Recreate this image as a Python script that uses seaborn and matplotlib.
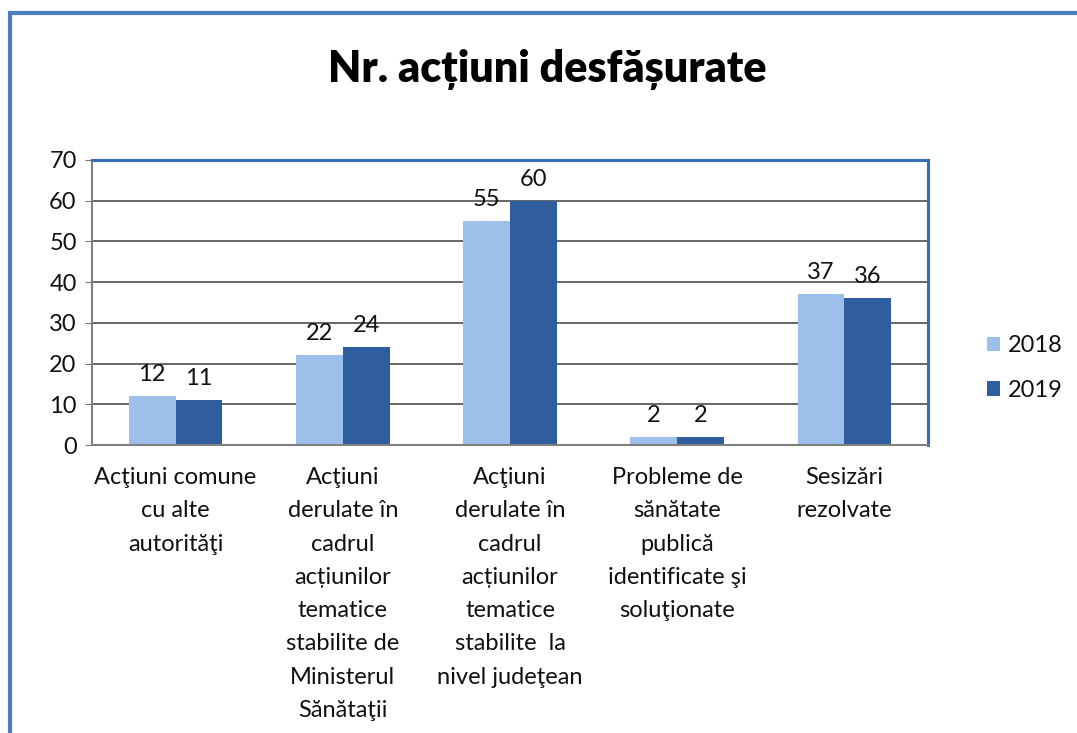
import numpy as np
import pandas as pd
import matplotlib.pyplot as plt
import seaborn as sns
from matplotlib.patches import Rectangle

# Data
categories = [
    "Acţiuni comune\ncu alte\nautorităţi",
    "Acţiuni\nderulate în\ncadrul\nacțiunilor\ntematice\nstabilite de\nMinisterul\nSănătaţii",
    "Acţiuni\nderulate în\ncadrul\nacțiunilor\ntematice\nstabilite  la\nnivel judeţean",
    "Probleme de\nsănătate\npublică\nidentificate şi\nsoluţionate",
    "Sesizări\nrezolvate",
]
years = ["2018", "2019"]
values_2018 = [12, 22, 55, 2, 37]
values_2019 = [11, 24, 60, 2, 36]

df = pd.DataFrame({
    "categorie": categories * 2,
    "an": [years[0]] * len(categories) + [years[1]] * len(categories),
    "valoare": values_2018 + values_2019,
})

sns.set_style("white")
plt.rcParams['font.family'] = ['Lato', 'DejaVu Sans']
plt.rcParams['text.color'] = '#111111'
plt.rcParams['xtick.labelcolor'] = '#111111'
plt.rcParams['ytick.labelcolor'] = '#111111'

fig = plt.figure(figsize=(10.77, 7.33), dpi=100)
W, H = 1077, 733
ax = fig.add_axes([92 / W, 1 - 445 / H, (928 - 92) / W, (445 - 160) / H])

palette = {"2018": "#9DC0EA", "2019": "#2F5E9E"}
sns.barplot(data=df, x="categorie", y="valoare", hue="an", palette=palette,
            width=0.56, gap=0, edgecolor="none", saturation=1, ax=ax, legend=True)

for cont in ax.containers:
    ax.bar_label(cont, padding=8, fontsize=17, color="#111111")

ax.set_ylim(0, 70)
ax.set_yticks(range(0, 71, 10))
ax.set_xlim(-0.5, len(categories) - 0.5)
ax.yaxis.grid(True, color="#5a5a5a", linewidth=1.3)
ax.set_axisbelow(True)
ax.set_xlabel("")
ax.set_ylabel("")

# tick marks at category boundaries
ax.set_xticks(np.arange(len(categories)))
ax.set_xticklabels(categories, fontsize=17, linespacing=1.72, va="top")
ax.set_xticks(np.arange(-0.5, len(categories)), minor=True)
ax.tick_params(axis="x", which="major", length=0, pad=16)
ax.tick_params(axis="x", which="minor", length=5, color="#777777", width=1.2)
ax.tick_params(axis="y", length=5, color="#777777", labelsize=17, pad=6, left=True)

for side in ["left", "bottom"]:
    ax.spines[side].set_color("#808080")
    ax.spines[side].set_linewidth(1.5)
for side in ["top", "right"]:
    ax.spines[side].set_color("#3A6BB5")
    ax.spines[side].set_linewidth(2.2)

leg = ax.legend(loc="center left", bbox_to_anchor=(1.045, 0.27), frameon=False,
                fontsize=17, handlelength=0.55, handleheight=0.55, handletextpad=0.35,
                labelspacing=1.0)

ax.set_title("Nr. acțiuni desfășurate", fontsize=31, fontweight="heavy",
             color="#000000", pad=56, x=0.545)

# outer frame
fig.patches.append(Rectangle((10 / W, -0.1), 1.2, 1.1 - 13 / H, transform=fig.transFigure,
                             fill=False, edgecolor="#4A7EC0", linewidth=3))

fig.savefig("out.png", dpi=100)
